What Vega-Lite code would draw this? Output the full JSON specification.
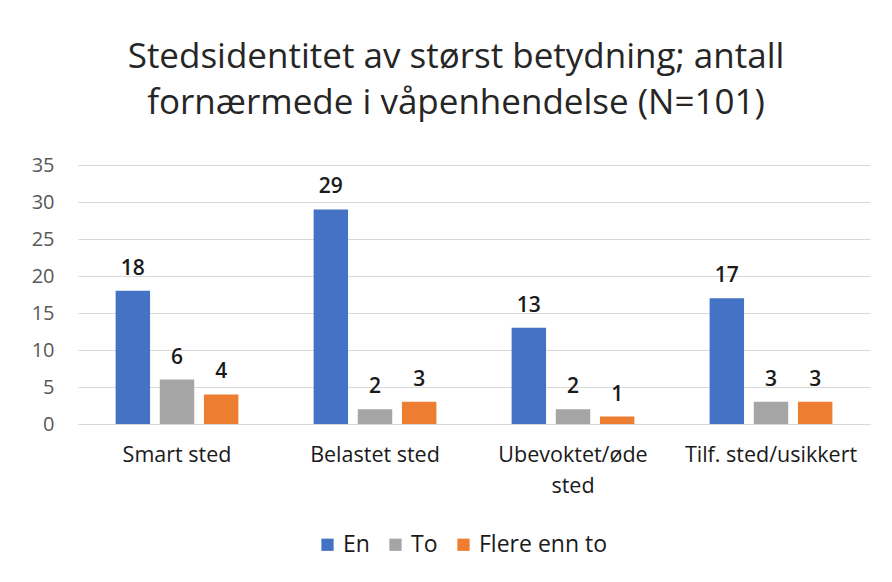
{
  "$schema": "https://vega.github.io/schema/vega-lite/v6.json",
  "width": 792,
  "height": 259,
  "autosize": "none",
  "padding": {"left": 78, "top": 165, "right": 22, "bottom": 158},
  "background": "white",
  "title": {
    "text": ["Stedsidentitet av størst betydning; antall", "fornærmede i våpenhendelse (N=101)"],
    "font": "Open Sans",
    "fontSize": 35,
    "fontWeight": "normal",
    "color": "#262626",
    "lineHeight": 46,
    "anchor": "middle",
    "dx": -18,
    "offset": 34
  },
  "data": {
    "values": [
      {"sted": "Smart sted", "antall": "En", "verdi": 18},
      {"sted": "Smart sted", "antall": "To", "verdi": 6},
      {"sted": "Smart sted", "antall": "Flere enn to", "verdi": 4},
      {"sted": "Belastet sted", "antall": "En", "verdi": 29},
      {"sted": "Belastet sted", "antall": "To", "verdi": 2},
      {"sted": "Belastet sted", "antall": "Flere enn to", "verdi": 3},
      {"sted": "Ubevoktet/øde sted", "antall": "En", "verdi": 13},
      {"sted": "Ubevoktet/øde sted", "antall": "To", "verdi": 2},
      {"sted": "Ubevoktet/øde sted", "antall": "Flere enn to", "verdi": 1},
      {"sted": "Tilf. sted/usikkert", "antall": "En", "verdi": 17},
      {"sted": "Tilf. sted/usikkert", "antall": "To", "verdi": 3},
      {"sted": "Tilf. sted/usikkert", "antall": "Flere enn to", "verdi": 3}
    ]
  },
  "encoding": {
    "x": {
      "field": "sted",
      "type": "nominal",
      "sort": ["Smart sted", "Belastet sted", "Ubevoktet/øde sted", "Tilf. sted/usikkert"],
      "scale": {"paddingInner": 0.38, "paddingOuter": 0.19},
      "axis": {
        "title": null,
        "labelAngle": 0,
        "labelFont": "Open Sans",
        "labelFontSize": 21.5,
        "labelColor": "#1a1a1a",
        "labelPadding": 20,
        "ticks": false,
        "domainColor": "#D9D9D9",
        "labelExpr": "datum.label == 'Ubevoktet/øde sted' ? ['Ubevoktet/øde', 'sted'] : datum.label",
        "labelLineHeight": 31
      }
    },
    "xOffset": {
      "field": "antall",
      "type": "nominal",
      "sort": ["En", "To", "Flere enn to"],
      "scale": {"paddingInner": 0.22, "paddingOuter": 0}
    },
    "y": {
      "field": "verdi",
      "type": "quantitative",
      "scale": {"domain": [0, 35]},
      "axis": {
        "title": null,
        "values": [0, 5, 10, 15, 20, 25, 30, 35],
        "labelFont": "Open Sans",
        "labelFontSize": 20,
        "labelColor": "#595959",
        "labelPadding": 24,
        "ticks": false,
        "domain": false,
        "gridColor": "#D9D9D9"
      }
    }
  },
  "layer": [
    {
      "mark": {"type": "bar"},
      "encoding": {
        "color": {
          "field": "antall",
          "type": "nominal",
          "sort": ["En", "To", "Flere enn to"],
          "scale": {"domain": ["En", "To", "Flere enn to"], "range": ["#4472C4", "#A5A5A5", "#ED7D31"]},
          "legend": {
            "title": null,
            "orient": "none",
            "direction": "horizontal",
            "legendX": 238,
            "legendY": 368,
            "symbolType": "square",
            "symbolSize": 150,
            "symbolStrokeWidth": 0,
            "labelFont": "Open Sans",
            "labelFontSize": 23,
            "labelColor": "#1a1a1a",
            "columnPadding": 14,
            "labelOffset": 4
          }
        }
      }
    },
    {
      "mark": {"type": "text", "dy": -22, "font": "Open Sans", "fontSize": 21, "fontWeight": 600, "color": "#1a1a1a"},
      "encoding": {
        "text": {"field": "verdi", "type": "quantitative"}
      }
    }
  ],
  "config": {
    "view": {"stroke": null}
  }
}
